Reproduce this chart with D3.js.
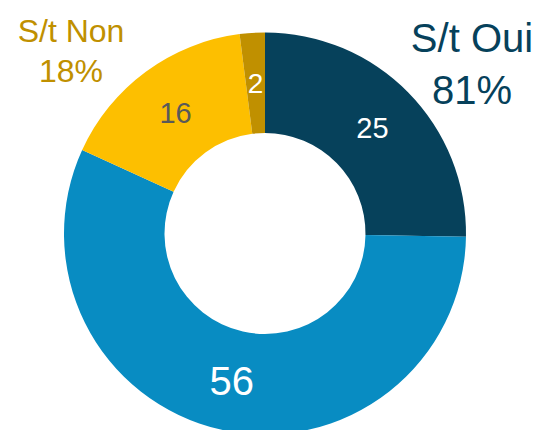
<!DOCTYPE html>
<html>
<head>
<meta charset="utf-8">
<script src="https://d3js.org/d3.v7.min.js"></script>
<style>
  body { margin: 0; background: #fff; }
  text { font-family: "Liberation Sans", Arial, sans-serif; }
</style>
</head>
<body>
<div id="chart"></div>
<script>
// slice values, clockwise from 12 o'clock
var values = [25, 56, 16, 2];
var colors = ["#06415b", "#088cc2", "#fdbf00", "#c09000"];
var labelColors = ["#ffffff", "#ffffff", "#595959", "#ffffff"];

// group totals shown outside the ring
var groupNames = ["S/t Oui", "S/t Non"];
var groupPcts = ["81%", "18%"];
var groupColors = ["#06415b", "#c09000"];

var width = 544, height = 430;
var cx = 265, cy = 233.5;
var outerR = 201, innerR = 100.5;

var svg = d3.select("#chart").append("svg")
  .attr("width", width)
  .attr("height", height);

var g = svg.append("g")
  .attr("transform", "translate(" + cx + "," + cy + ")");

var pie = d3.pie().sort(null).value(function(d) { return d; });
var arc = d3.arc().innerRadius(innerR).outerRadius(outerR);

var arcs = pie(values);

g.selectAll("path")
  .data(arcs)
  .enter().append("path")
    .attr("d", arc)
    .attr("fill", function(d, i) { return colors[i]; });

// value labels at the middle of each slice
var sizes = [29, 40, 29, 28];
g.selectAll("text.val")
  .data(arcs)
  .enter().append("text")
    .attr("class", "val")
    .attr("transform", function(d) { return "translate(" + arc.centroid(d) + ")"; })
    .attr("text-anchor", "middle")
    .attr("dy", "0.36em")
    .attr("font-size", function(d, i) { return sizes[i] + "px"; })
    .attr("fill", function(d, i) { return labelColors[i]; })
    .text(function(d) { return d.data; });

// group labels
var groupPos = [
  { x: 472, y1: 52, y2: 104, size: 40 },
  { x: 71, y1: 42, y2: 82, size: 32 }
];
groupNames.forEach(function(name, i) {
  var p = groupPos[i];
  var t = svg.append("text")
    .attr("text-anchor", "middle")
    .attr("font-size", p.size + "px")
    .attr("fill", groupColors[i]);
  t.append("tspan").attr("x", p.x).attr("y", p.y1).text(name);
  t.append("tspan").attr("x", p.x).attr("y", p.y2).text(groupPcts[i]);
});
</script>
</body>
</html>
